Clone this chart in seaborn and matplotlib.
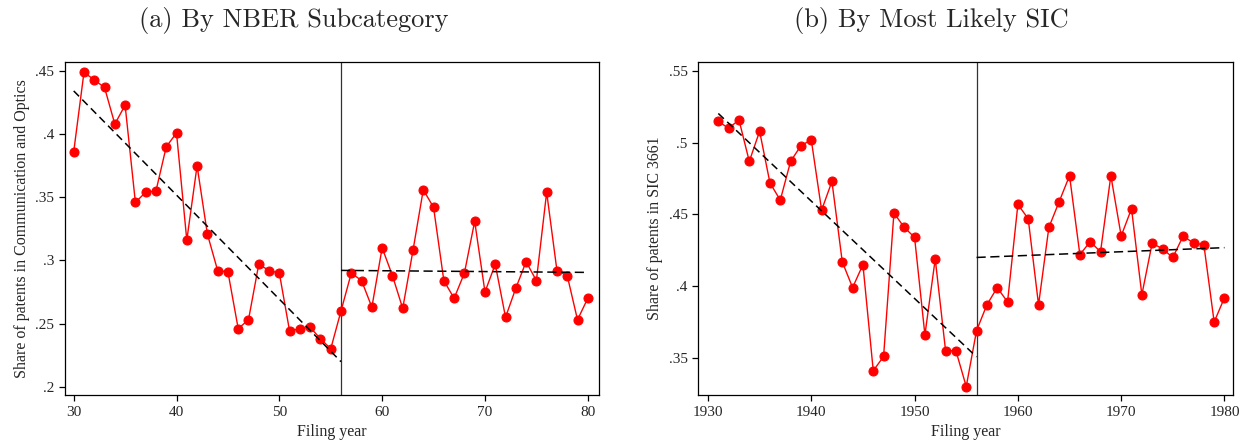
import numpy as np
import pandas as pd
import matplotlib
matplotlib.use("Agg")
import matplotlib.pyplot as plt
import seaborn as sns

# ---- data ----
years_a = list(range(30, 81))
share_a = [0.386, 0.449, 0.443, 0.437, 0.408, 0.423, 0.346, 0.354, 0.355, 0.390,
           0.401, 0.316, 0.375, 0.321, 0.292, 0.291, 0.246, 0.253, 0.297, 0.292,
           0.290, 0.244, 0.246, 0.247, 0.238, 0.230, 0.260, 0.290, 0.284, 0.263,
           0.310, 0.288, 0.262, 0.308, 0.356, 0.342, 0.284, 0.270, 0.290, 0.331,
           0.275, 0.297, 0.255, 0.278, 0.299, 0.284, 0.354, 0.292, 0.288, 0.253,
           0.270]
years_b = list(range(1931, 1981))
share_b = [0.515, 0.510, 0.516, 0.487, 0.508, 0.472, 0.460, 0.487, 0.498, 0.502,
           0.453, 0.473, 0.417, 0.399, 0.415, 0.341, 0.351, 0.451, 0.441, 0.434,
           0.366, 0.419, 0.355, 0.355, 0.330, 0.369, 0.387, 0.399, 0.389, 0.457,
           0.447, 0.387, 0.441, 0.459, 0.477, 0.422, 0.431, 0.424, 0.477, 0.435,
           0.454, 0.394, 0.430, 0.426, 0.420, 0.435, 0.430, 0.429, 0.375, 0.392]
break_a = 56
break_b = 1956
titles = ["(a) By NBER Subcategory", "(b) By Most Likely SIC"]
ylabels = ["Share of patents in Communication and Optics", "Share of patents in SIC 3661"]
xlabel = "Filing year"
xticks_a = [30, 40, 50, 60, 70, 80]
yticks_a = [0.2, 0.25, 0.3, 0.35, 0.4, 0.45]
yticklabels_a = [".2", ".25", ".3", ".35", ".4", ".45"]
xticks_b = [1930, 1940, 1950, 1960, 1970, 1980]
yticks_b = [0.35, 0.4, 0.45, 0.5, 0.55]
yticklabels_b = [".35", ".4", ".45", ".5", ".55"]

sns.set_theme(style="white")
plt.rcParams["font.family"] = ["Liberation Serif", "DejaVu Serif"]

fig = plt.figure(figsize=(12.48, 4.44), dpi=100)
axA = fig.add_axes([0.0518, 0.110, 0.428, 0.751])
axB = fig.add_axes([0.5595, 0.110, 0.4287, 0.751])

def panel(ax, years, share, brk, xticks, yticks, yticklabels, xlim, ylim, ylabel):
    df = pd.DataFrame({"year": years, "share": share})
    sns.lineplot(data=df, x="year", y="share", ax=ax, color="#ff0000",
                 linewidth=1.0, marker="o", markersize=6.5,
                 markeredgecolor="#ff0000", markerfacecolor="#ff0000", zorder=3)
    pre = df[df.year <= brk]
    post = df[df.year >= brk]
    c1 = np.polyfit(pre.year, pre.share, 1)
    c2 = np.polyfit(post.year, post.share, 1)
    x1 = np.array([df.year.min(), brk])
    x2 = np.array([brk, df.year.max()])
    ax.plot(x1, np.polyval(c1, x1), color="black", ls=(0, (5, 3)), lw=1.1, zorder=4)
    ax.plot(x2, np.polyval(c2, x2), color="black", ls=(0, (6, 3)), lw=1.1, zorder=4)
    ax.axvline(brk, color="#333333", lw=0.9, zorder=2)
    ax.set_xlim(*xlim)
    ax.set_ylim(*ylim)
    ax.set_xticks(xticks)
    ax.set_yticks(yticks)
    ax.set_yticklabels(yticklabels)
    ax.set_xlabel(xlabel, fontsize=11.5)
    ax.set_ylabel(ylabel, fontsize=11.5)
    ax.tick_params(axis="both", which="major", direction="out", length=4,
                   width=0.9, color="black", labelsize=11, left=True, bottom=True)
    for s in ax.spines.values():
        s.set_color("black")
        s.set_linewidth(0.9)
    ax.grid(False)

panel(axA, years_a, share_a, break_a, xticks_a, yticks_a, yticklabels_a,
      (29.12, 81.07), (0.1933, 0.4574), ylabels[0])
panel(axB, years_b, share_b, break_b, xticks_b, yticks_b, yticklabels_b,
      (1929.06, 1980.85), (0.324, 0.5565), ylabels[1])

fig.text(294 / 1248, 1 - 20 / 444, titles[0], ha="center", va="center",
         fontsize=19, family="cmr10")
fig.text(931 / 1248, 1 - 20 / 444, titles[1], ha="center", va="center",
         fontsize=19, family="cmr10")

fig.savefig("out.png", dpi=100)
